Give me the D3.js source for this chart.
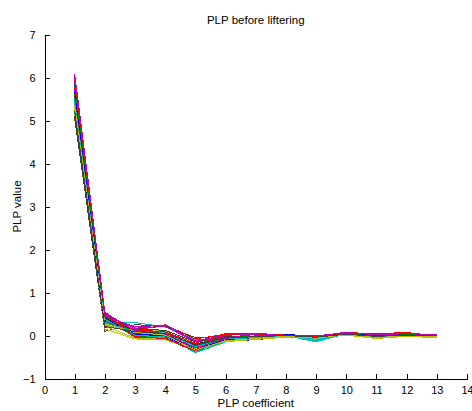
<!DOCTYPE html>
<html><head><meta charset="utf-8">
<script src="https://cdn.jsdelivr.net/npm/d3@7"></script>
<style>
body{margin:0;background:#fff;}
text{font-family:"Liberation Sans",Arial,sans-serif;font-size:11px;fill:#000;}
</style></head>
<body><svg id="c" width="472" height="411"></svg>
<script>
const coefficients = [1,2,3,4,5,6,7,8,9,10,11,12,13];
const xTicks = [0,1,2,3,4,5,6,7,8,9,10,11,12,13,14];
const yTicks = [-1,0,1,2,3,4,5,6,7];
const lineColors = ["#0000ff","#008000","#ff0000","#00bfbf","#bf00bf","#bfbf00","#404040"];
const frames = [
 [5.85,0.42,0.05,-0.02,-0.30,-0.08,-0.05,0.00,-0.04,0.04,0.00,0.03,0.01],
 [5.60,0.38,0.10,0.02,-0.28,-0.05,-0.03,0.01,-0.06,0.05,-0.02,0.02,0.00],
 [5.95,0.45,0.00,-0.05,-0.32,0.02,0.03,-0.01,-0.03,0.06,0.02,0.05,-0.02],
 [5.40,0.30,0.30,0.20,-0.10,-0.05,-0.08,0.00,-0.15,0.05,-0.05,0.01,0.00],
 [6.05,0.50,0.02,-0.06,-0.38,-0.10,0.04,-0.02,-0.02,0.07,0.03,0.04,0.02],
 [5.20,0.20,0.18,0.10,-0.22,-0.12,-0.06,-0.03,-0.08,0.02,-0.06,-0.01,-0.04],
 [5.05,0.10,0.25,0.22,-0.05,-0.02,-0.04,0.00,-0.05,0.03,-0.03,0.02,-0.01],
 [5.75,0.48,-0.05,-0.08,-0.35,-0.12,-0.10,-0.02,-0.02,0.05,0.01,0.03,0.02],
 [5.50,0.35,0.15,0.05,-0.25,-0.06,-0.02,0.02,-0.07,0.04,-0.01,0.01,0.00],
 [5.90,0.40,0.12,0.25,-0.08,0.03,0.02,0.00,-0.04,0.06,0.00,0.06,-0.03],
 [5.30,0.32,0.08,-0.02,-0.40,-0.15,-0.07,-0.01,-0.12,0.03,-0.04,0.00,-0.02],
 [5.70,0.44,0.20,0.24,-0.12,0.00,0.05,0.01,-0.03,0.08,0.02,0.03,0.01],
 [5.15,0.15,-0.08,-0.10,-0.33,-0.14,-0.09,-0.04,-0.06,0.01,-0.07,-0.02,-0.05],
 [5.45,0.28,0.04,0.00,-0.20,-0.03,-0.02,0.01,-0.05,0.05,-0.02,0.02,0.00],
 [5.65,0.36,0.06,0.03,-0.27,-0.09,-0.06,0.02,-0.01,0.04,0.00,0.04,0.01],
 [5.80,0.46,-0.02,-0.04,-0.30,-0.07,-0.04,-0.02,-0.08,0.03,-0.03,0.01,0.00],
 [5.25,0.26,0.14,0.08,-0.18,0.04,0.01,0.00,-0.02,0.07,0.04,0.07,-0.01],
 [5.55,0.34,0.02,-0.06,-0.37,-0.13,-0.05,-0.01,-0.10,0.02,-0.05,0.00,-0.02],
 [6.00,0.52,0.09,0.01,-0.26,0.02,0.04,0.00,-0.01,0.06,0.01,0.03,0.02],
 [5.35,0.24,0.11,0.04,-0.29,-0.11,-0.08,-0.03,-0.07,0.02,-0.04,-0.01,-0.03],
 [5.10,0.18,0.16,0.12,-0.15,-0.04,-0.03,0.01,-0.04,0.04,-0.02,0.02,0.00],
 [5.88,0.54,0.07,-0.03,-0.34,-0.08,-0.07,-0.01,-0.03,0.05,0.00,0.02,0.01],
 [5.62,0.40,-0.04,-0.07,-0.36,-0.10,-0.05,0.00,-0.06,0.03,-0.04,0.01,-0.01],
 [5.78,0.43,0.13,0.07,-0.24,0.05,0.03,0.01,-0.02,0.06,0.03,0.05,-0.02],
 [5.48,0.37,0.01,-0.03,-0.31,-0.09,-0.04,-0.02,-0.09,0.04,-0.03,0.02,0.00],
 [5.92,0.47,0.17,0.21,-0.14,0.01,0.03,0.00,-0.02,0.07,0.02,0.04,0.01],
 [5.28,0.22,-0.06,-0.09,-0.31,-0.13,-0.09,-0.03,-0.05,0.01,-0.06,-0.01,-0.04],
 [5.58,0.33,0.05,0.02,-0.23,-0.06,-0.03,0.00,-0.04,0.04,-0.01,0.02,0.00],
 [5.68,0.41,0.03,-0.01,-0.33,-0.09,-0.06,0.01,-0.05,0.05,-0.01,0.03,0.01],
 [5.82,0.44,0.08,0.00,-0.27,-0.04,-0.02,0.00,-0.04,0.04,-0.02,0.02,0.00],
 [5.97,0.49,-0.03,-0.07,-0.35,0.03,0.04,-0.01,-0.02,0.06,0.02,0.06,-0.01],
 [5.42,0.29,0.10,0.06,-0.26,-0.08,-0.05,0.00,-0.11,0.03,-0.04,0.00,-0.01],
 [6.08,0.53,0.12,0.03,-0.29,-0.07,0.05,-0.01,-0.01,0.07,0.02,0.04,0.02],
 [5.33,0.27,0.07,0.01,-0.34,-0.12,-0.07,-0.02,-0.06,0.02,-0.05,-0.01,-0.03],
 [5.22,0.21,0.09,0.05,-0.21,-0.05,-0.03,0.00,-0.04,0.03,-0.02,0.01,0.00]
];
const titleText = "PLP before liftering";
const xLabel = "PLP coefficient";
const yLabel = "PLP value";

const L = 44.5, R = 467, T = 34.5, B = 378.5;
const svg = d3.select("#c");
const x = d3.scaleLinear().domain([0,14]).range([L,R]);
const y = d3.scaleLinear().domain([-1,7]).range([B,T]);

const line = d3.line().x((d,i)=>x(coefficients[i])).y(d=>y(d));
svg.append("g").selectAll("path").data(frames).join("path")
  .attr("d", line).attr("fill","none")
  .attr("stroke",(d,i)=>lineColors[i%lineColors.length])
  .attr("stroke-width",1)
  .attr("shape-rendering","crispEdges");

const xa = svg.append("g").attr("transform",`translate(0,${B})`)
  .call(d3.axisBottom(x).tickValues(xTicks).tickSize(-5).tickPadding(8).tickFormat(d3.format("d")));
const ya = svg.append("g").attr("transform",`translate(${L},0)`)
  .call(d3.axisLeft(y).tickValues(yTicks).tickSize(-5).tickPadding(9).tickFormat(d3.format("d")));
[xa,ya].forEach(a=>{
  a.select(".domain").attr("stroke","#000").attr("shape-rendering","crispEdges");
  a.selectAll(".tick line").attr("stroke","#000").attr("shape-rendering","crispEdges");
  a.selectAll("text").attr("fill","#000").style("font-size","11px").style("font-family","'Liberation Sans',Arial,sans-serif");
});

svg.append("text").attr("x",(L+R)/2).attr("y",24).attr("text-anchor","middle").style("font-size","11.5px").text(titleText);
svg.append("text").attr("x",(L+R)/2).attr("y",407).attr("text-anchor","middle").style("font-size","11.5px").text(xLabel);
svg.append("text").attr("transform",`translate(21,${(T+B)/2}) rotate(-90)`).attr("text-anchor","middle").style("font-size","11.5px").text(yLabel);
</script></body></html>
